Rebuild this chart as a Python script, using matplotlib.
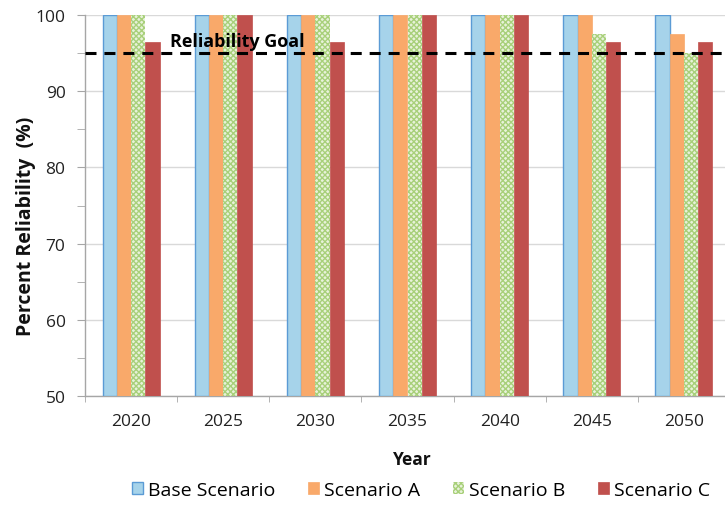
import matplotlib
matplotlib.use("Agg")
import matplotlib.pyplot as plt
import numpy as np
from matplotlib.patches import Patch

plt.rcParams['font.family'] = ['Open Sans', 'DejaVu Sans']
plt.rcParams['hatch.linewidth'] = 1.0

years = ["2020", "2025", "2030", "2035", "2040", "2045", "2050"]
series_names = ["Base Scenario", "Scenario A", "Scenario B", "Scenario C"]
base = [100, 100, 100, 100, 100, 100, 100]
scen_a = [100, 100, 100, 100, 100, 100, 97.5]
scen_b = [100, 100, 100, 100, 100, 97.5, 95.0]
scen_c = [96.4, 100, 96.4, 100, 100, 96.4, 96.4]
goal = 95
goal_label = "Reliability Goal"

fig = plt.figure(figsize=(7.25, 5.06), dpi=100)
ax = fig.add_axes([85/725, 1-397/506, 645/725, 381/506])

x = np.arange(len(years))
w = 0.155
styles = [
    dict(color="#A6D3EA", edgecolor="#5B9BD5", linewidth=1.0),
    dict(color="#F9A96A", edgecolor="#F9A96A", linewidth=0.5),
    dict(color="#E8F2DA", edgecolor="#A8D07A", linewidth=0, hatch="xxxxxx"),
    dict(color="#C0504D", edgecolor="#C0504D", linewidth=0.5),
]
data = [base, scen_a, scen_b, scen_c]
for i, (vals, st) in enumerate(zip(data, styles)):
    ax.bar(x + (i - 1.5) * w, np.array(vals) - 50, bottom=50, width=w,
           label=series_names[i], zorder=3, **st)

ax.set_xlim(-0.5, len(years) - 0.5)
ax.set_ylim(50, 100)
ax.axhline(goal, color="black", linestyle=(0, (3.6, 2.6)), linewidth=2.2, zorder=4)
ax.text(0.42, goal + 0.35, goal_label, fontsize=13, fontweight="bold",
        ha="left", va="bottom", zorder=5)

ax.set_yticks(np.arange(50, 101, 10))
ax.set_yticks(np.arange(55, 100, 10), minor=True)
ax.set_xticks(x)
ax.set_xticklabels(years)
ax.set_xticks(np.arange(-0.5, len(years), 1), minor=True)
ax.tick_params(axis="x", which="major", length=0, pad=12, labelsize=12.5, colors="#222222")
ax.tick_params(axis="x", which="minor", length=4, color="#A6A6A6", direction="out")
ax.tick_params(axis="y", which="both", length=6, color="#A6A6A6", direction="out", pad=8,
               labelsize=12.5, labelcolor="#222222")
ax.grid(axis="y", which="major", color="#D9D9D9", linewidth=1.0, zorder=0)
ax.set_axisbelow(True)
for s in ["top", "right"]:
    ax.spines[s].set_visible(False)
for s in ["left", "bottom"]:
    ax.spines[s].set_color("#A6A6A6")
    ax.spines[s].set_linewidth(1.0)

fig.text(26/725, 1-226/506, "Percent Reliability  (%)", rotation=90, fontsize=14,
         fontweight="bold", ha="center", va="center", color="#111111")
fig.text(412/725, 1-460/506, "Year", fontsize=12.5, fontweight="bold",
         ha="center", va="center", color="#111111")

handles = [Patch(facecolor=st["color"], edgecolor=st["edgecolor"],
                 linewidth=st.get("linewidth", 0.5), hatch=st.get("hatch"))
           for st in styles]
fig.legend(handles, series_names, loc="center", bbox_to_anchor=(421/725, 1-491/506),
           ncol=4, frameon=False, fontsize=14, handlelength=0.55, handleheight=0.55,
           handletextpad=0.25, columnspacing=1.7, borderpad=0)

fig.savefig("out.png", dpi=100)
